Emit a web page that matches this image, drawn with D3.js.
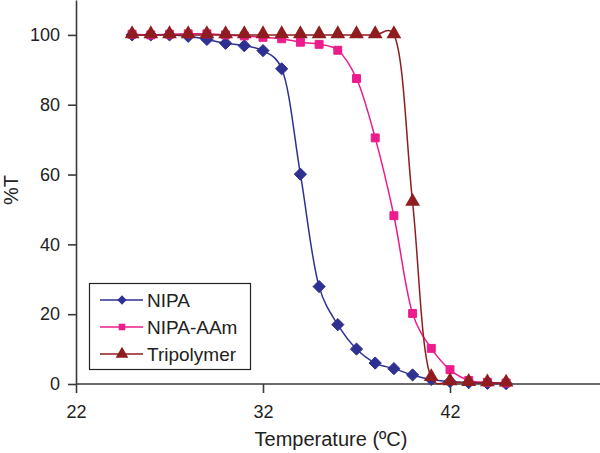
<!DOCTYPE html>
<html><head><meta charset="utf-8">
<script src="https://cdn.jsdelivr.net/npm/d3@7"></script>
<style>body{margin:0;background:#fff}svg{display:block;font-family:"Liberation Sans",Arial,sans-serif}</style>
</head><body><svg id="c" width="600" height="453"></svg>
<script>
const temps = [25,26,27,28,29,30,31,32,33,34,35,36,37,38,39,40,41,42,43,44,45];
const nipa = [100,100,100,99.6,98.7,97.6,96.9,95.5,90.3,60.1,27.9,17,10,6,4.4,2.6,1.3,0.7,0.4,0.2,0.1];
const nipaAAm = [100.2,100,100.2,100.3,100.3,100,99.7,99.3,98.9,97.9,97.3,95.6,87.5,70.5,48.2,20.2,10.2,4.1,1,0.5,0.3];
const tripolymer = [100,100,100,100,100,100,100,100,100,100,100,100,100,100,100,52,1.8,0.6,0.4,0.3,0.2];
const seriesNames = ["NIPA","NIPA-AAm","Tripolymer"];
const xTicks = [22,32,42];
const yTicks = [0,20,40,60,80,100];

const svg = d3.select("#c");
const x = d3.scaleLinear().domain([22,52]).range([76,637]);
const y = d3.scaleLinear().domain([0,110]).range([384,0]);
const axisColor = "#3a3a3a";

// axes
const gx = svg.append("g").attr("transform","translate(0,384)")
  .call(d3.axisBottom(x).tickValues(xTicks).tickSize(9).tickPadding(12).tickSizeOuter(0));
const gy = svg.append("g").attr("transform","translate(76,0)")
  .call(d3.axisLeft(y).tickValues(yTicks).tickSize(8).tickPadding(8).tickSizeOuter(0));
[gx,gy].forEach(g=>{
  g.select(".domain").attr("stroke",axisColor).attr("stroke-width",1.6);
  g.selectAll(".tick line").attr("stroke",axisColor).attr("stroke-width",1.6);
  g.selectAll(".tick text").attr("fill","#222").style("font-size","18px").style("font-family","'Liberation Sans',Arial,sans-serif");
});
gx.select(".domain").attr("d","M76,0H600");

svg.append("text").attr("x",331).attr("y",446).attr("text-anchor","middle")
  .attr("fill","#222").style("font-size","20px").text("Temperature (ºC)");
svg.append("text").attr("transform","translate(18,190) rotate(-90)").attr("text-anchor","middle")
  .attr("fill","#222").style("font-size","20px").text("%T");

const colors = ["#2e3192","#ec1c8c","#8f1d1f"];
const data = [nipa,nipaAAm,tripolymer];
const line = d3.line().x((d,i)=>x(temps[i])).y(d=>y(d)).curve(d3.curveCatmullRom.alpha(0.3));

const sym = [d3.symbol().type(d3.symbolDiamond2).size(95),
             d3.symbol().type(d3.symbolSquare2).size(80),
             d3.symbol().type(d3.symbolTriangle).size(95)];

data.forEach((vals,k)=>{
  const g = svg.append("g");
  g.append("path").attr("d",line(vals)).attr("fill","none").attr("stroke",colors[k]).attr("stroke-width",1.5);
  g.selectAll("path.m").data(vals).join("path").attr("class","m")
    .attr("transform",(d,i)=>`translate(${x(temps[i])},${y(d)+(k===2?-1:0)})`)
    .attr("d",sym[k]()).attr("fill",colors[k]).attr("stroke",k===2?"none":colors[k]);
});

// legend
const lg = svg.append("g");
lg.append("rect").attr("x",89.5).attr("y",283.5).attr("width",161).attr("height",86)
  .attr("fill","#fff").attr("stroke","#222").attr("stroke-width",1.2);
const legSym = [d3.symbol().type(d3.symbolDiamond2).size(55),
                d3.symbol().type(d3.symbolSquare2).size(55),
                d3.symbol().type(d3.symbolTriangle).size(70)];
seriesNames.forEach((n,k)=>{
  const yy = 300 + k*27;
  lg.append("line").attr("x1",100).attr("x2",143).attr("y1",yy).attr("y2",yy).attr("stroke",colors[k]).attr("stroke-width",1.5);
  lg.append("path").attr("transform",`translate(122,${yy})`).attr("d",legSym[k]()).attr("fill",colors[k]);
  lg.append("text").attr("x",147).attr("y",yy+6.5).attr("fill","#222").style("font-size","19px").text(n);
});
</script></body></html>
